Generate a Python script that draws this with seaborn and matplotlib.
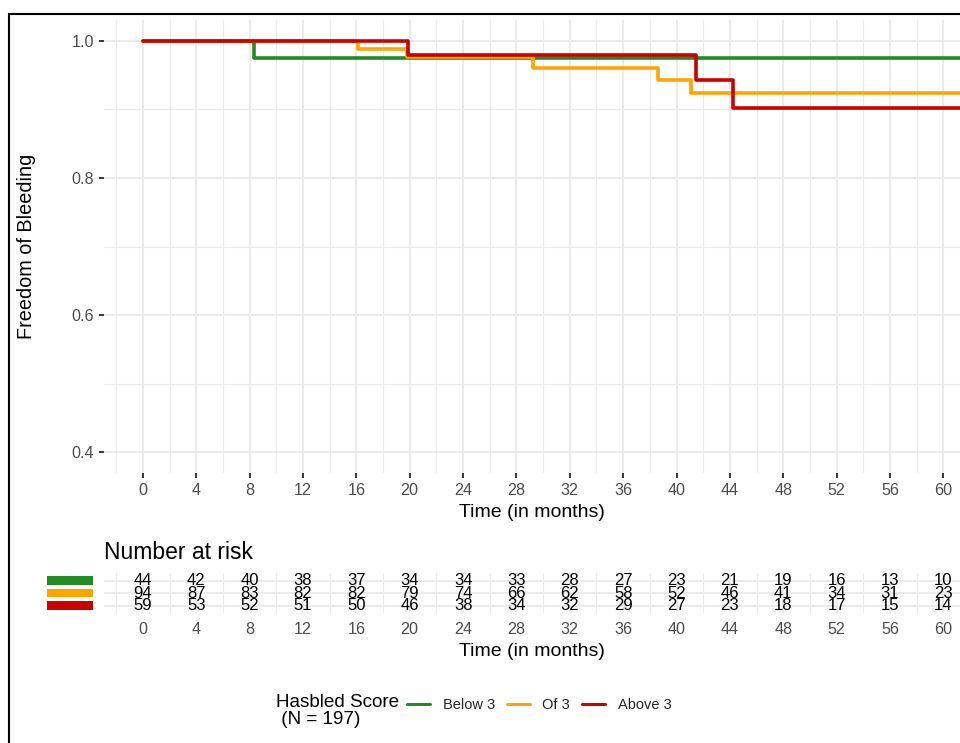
import numpy as np
import pandas as pd
import matplotlib
matplotlib.use("Agg")
import matplotlib.pyplot as plt
import seaborn as sns
from matplotlib.patches import Rectangle
from matplotlib.transforms import blended_transform_factory

# Kaplan-Meier step curves (time in months, freedom-of-bleeding probability)
groups = ["Below 3", "Of 3", "Above 3"]
colors = ["#228B22", "#FFA500", "#CD0000"]

below_time = [0, 8.35, 62]
below_surv = [1.0, 0.975, 0.975]
of_time = [0, 16.1, 19.8, 29.25, 38.6, 41.1, 62]
of_surv = [1.0, 0.988, 0.976, 0.960, 0.943, 0.924, 0.924]
above_time = [0, 19.9, 41.45, 44.25, 62]
above_surv = [1.0, 0.979, 0.943, 0.902, 0.902]

# Number at risk table
risk_times = [0, 4, 8, 12, 16, 20, 24, 28, 32, 36, 40, 44, 48, 52, 56, 60]
risk_below = [44, 42, 40, 38, 37, 34, 34, 33, 28, 27, 23, 21, 19, 16, 13, 10]
risk_of = [94, 87, 83, 82, 82, 79, 74, 66, 62, 58, 52, 46, 41, 34, 31, 23]
risk_above = [59, 53, 52, 51, 50, 46, 38, 34, 32, 29, 27, 23, 18, 17, 15, 14]

y_ticks = [0.4, 0.6, 0.8, 1.0]
y_tick_labels = ["0.4", "0.6", "0.8", "1.0"]

df = pd.concat([
    pd.DataFrame({"time": below_time, "surv": below_surv, "group": groups[0]}),
    pd.DataFrame({"time": of_time, "surv": of_surv, "group": groups[1]}),
    pd.DataFrame({"time": above_time, "surv": above_surv, "group": groups[2]}),
], ignore_index=True)

sns.set_style("white")
plt.rcParams["font.family"] = ["Liberation Sans", "DejaVu Sans"]

W, H = 960, 743
def fx(px):
    return px / W
def fy(py):
    return 1 - py / H

fig = plt.figure(figsize=(W / 100, H / 100), dpi=100)

GRID = "#EBEBEB"
TICKC = "#4D4D4D"
TITLE_SIZE = 14
TICK_SIZE = 11.6

# ---- survival panel ----
ax = fig.add_axes([fx(104), fy(473), fx(960) - fx(104), fy(20) - fy(473)])
sns.lineplot(data=df, x="time", y="surv", hue="group", hue_order=groups,
             palette=colors, drawstyle="steps-post", estimator=None,
             sort=False, linewidth=2.6, ax=ax)
handles, labels = ax.get_legend_handles_labels()
ax.get_legend().remove()

ax.set_xlim(-2.92, 61.25)
ax.set_ylim(0.37, 1.03)
ax.set_xticks(risk_times)
ax.set_xticks(np.arange(-2, 62, 4), minor=True)
ax.set_yticks(y_ticks)
ax.set_yticklabels(y_tick_labels)
ax.set_yticks([0.5, 0.7, 0.9], minor=True)
ax.grid(which="major", color=GRID, lw=1.4)
ax.grid(which="minor", color=GRID, lw=0.8)
ax.set_axisbelow(True)
for s in ax.spines.values():
    s.set_visible(False)
ax.tick_params(which="major", bottom=True, left=True, length=3.6, width=1.1,
               color="black", labelsize=TICK_SIZE, labelcolor=TICKC)
ax.tick_params(axis="x", which="major", pad=3.6)
ax.tick_params(axis="y", which="major", pad=3.4)
ax.tick_params(which="minor", length=0)
ax.set_xlabel("")
ax.set_ylabel("")

fig.text(fx(532), fy(516.7), "Time (in months)", ha="center", va="baseline",
         fontsize=TITLE_SIZE, color="black")
fig.text(fx(27), fy(246.5), "Freedom of Bleeding", ha="center", va="center",
         rotation=90, fontsize=14.3, color="black")

# ---- number at risk table ----
fig.text(fx(104), fy(559), "Number at risk", ha="left", va="baseline",
         fontsize=16.5, color="black")

rax = fig.add_axes([fx(104), fy(613), fx(960) - fx(104), fy(573) - fy(613)])
rax.set_xlim(ax.get_xlim())
rax.set_ylim(3.6, 0.4)
rax.set_xticks(risk_times)
rax.set_xticks(np.arange(-2, 62, 4), minor=True)
rax.set_yticks([1, 2, 3])
rax.set_yticklabels([])
rax.grid(which="major", color=GRID, lw=1.4)
rax.grid(which="minor", axis="x", color=GRID, lw=0.8)
rax.set_axisbelow(True)
for s in rax.spines.values():
    s.set_visible(False)
rax.tick_params(which="both", length=0)
rax.tick_params(axis="x", labelsize=TICK_SIZE, labelcolor=TICKC, pad=6.6)

for row, counts in enumerate([risk_below, risk_of, risk_above], start=1):
    for t, n in zip(risk_times, counts):
        rax.text(t, row, str(n), ha="center", va="center", fontsize=12,
                 color="black")

bar_tr = blended_transform_factory(fig.transFigure, rax.transData)
for row, c in enumerate(colors, start=1):
    rax.add_patch(Rectangle((fx(47), row - 0.33), fx(93) - fx(47), 0.66,
                            transform=bar_tr, color=c, clip_on=False, lw=0))

fig.text(fx(532), fy(656), "Time (in months)", ha="center", va="baseline",
         fontsize=TITLE_SIZE, color="black")

# ---- legend ----
fig.text(fx(276), fy(706.7), "Hasbled Score", ha="left", va="baseline",
         fontsize=13.6, color="black")
fig.text(fx(276), fy(724.3), " (N = 197)", ha="left", va="baseline",
         fontsize=13.6, color="black")
for h in handles:
    h.set_linewidth(2.2)
fig.legend(handles, labels, ncol=3, frameon=False, loc="center left",
           bbox_to_anchor=(fx(407), fy(705)), borderpad=0, borderaxespad=0,
           fontsize=10.5, handlelength=1.58, handletextpad=0.87,
           columnspacing=0.8)

# outer frame of the figure
fig.patches.append(Rectangle((fx(9), -0.2), 1.5, fy(13.5) + 0.2,
                             transform=fig.transFigure, fill=False,
                             edgecolor="black", lw=1.5))

fig.savefig("out.png", dpi=100)
